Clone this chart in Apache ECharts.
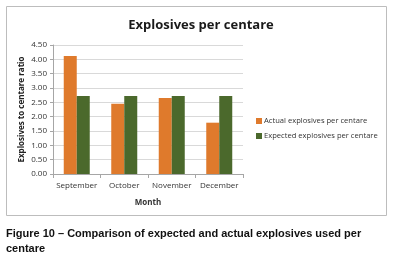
<!DOCTYPE html>
<html lang="en">
<head>
    <meta charset="UTF-8">
    <title>Explosives per centare</title>
    <script src="https://cdn.jsdelivr.net/npm/echarts@6/dist/echarts.min.js"></script>
    <style>
        *{
            margin: 0;
            padding: 0;
        }
        body{
            background: #fff;
        }
        #box{
            width: 394px;
            height: 269px;
        }
    </style>
</head>
<body>
<div id="box"></div>
<script type="text/javascript">
    // data
    let months = ['September', 'October', 'November', 'December'];
    let actual = [4.12, 2.45, 2.65, 1.79];
    let expected = [2.72, 2.72, 2.72, 2.72];
    let yTicks = [0, 0.5, 1, 1.5, 2, 2.5, 3, 3.5, 4, 4.5];

    let font = 'Open Sans';
    let myChart = echarts.init(document.getElementById('box'));
    let option = {
        animation: false,
        textStyle: {fontFamily: font},
        title: [{
            text: 'Explosives per centare',
            left: 196,
            textAlign: 'center',
            top: 14,
            textStyle: {fontSize: 13, fontWeight: 'bold', color: '#1a1a1a', fontFamily: font}
        }, {
            text: 'Figure 10 \u2013 Comparison of expected and actual explosives used per\ncentare',
            left: 6,
            top: 226,
            padding: 0,
            textStyle: {
                fontSize: 11, fontWeight: 'bold', color: '#111',
                fontFamily: 'Liberation Sans', lineHeight: 15
            }
        }],
        graphic: [{
            type: 'rect',
            shape: {x: 6.5, y: 6.5, width: 380, height: 209},
            style: {fill: 'none', stroke: '#bdbdbd', lineWidth: 1},
            z: -1
        }],
        legend: {
            orient: 'vertical',
            left: 251,
            top: 112,
            itemWidth: 6,
            itemHeight: 6,
            itemGap: 7,
            icon: 'rect',
            textStyle: {fontSize: 7.6, color: '#333', padding: [0, 0, 0, -3]},
            data: ['Actual explosives per centare', 'Expected explosives per centare']
        },
        grid: {
            left: 53,
            right: 151,
            top: 45,
            bottom: 95
        },
        xAxis: {
            type: 'category',
            data: months,
            name: 'Month',
            nameLocation: 'middle',
            nameGap: 25,
            nameTextStyle: {fontSize: 8, fontWeight: 'bold', color: '#333'},
            axisLine: {lineStyle: {color: '#a6a6a6'}},
            axisTick: {show: true, length: 4, lineStyle: {color: '#a6a6a6'}},
            axisLabel: {fontSize: 8, color: '#333', margin: 8, interval: 0}
        },
        yAxis: {
            type: 'value',
            min: yTicks[0],
            max: yTicks[yTicks.length - 1],
            interval: 0.5,
            name: 'Explosives to centare ratio',
            nameLocation: 'middle',
            nameGap: 27,
            nameTextStyle: {fontSize: 8, fontWeight: 'bold', color: '#222'},
            axisLine: {show: true, lineStyle: {color: '#a6a6a6'}},
            axisTick: {show: true, length: 3, lineStyle: {color: '#a6a6a6'}},
            axisLabel: {
                fontSize: 8, color: '#333', margin: 6,
                formatter: v => v.toFixed(2)
            },
            splitLine: {lineStyle: {color: '#d9d9d9'}}
        },
        series: [{
            name: 'Actual explosives per centare',
            type: 'bar',
            data: actual,
            barWidth: 13,
            barGap: '0%',
            itemStyle: {color: '#df7a2c'}
        }, {
            name: 'Expected explosives per centare',
            type: 'bar',
            data: expected,
            barWidth: 13,
            itemStyle: {color: '#4b692c'}
        }]
    };
    myChart.setOption(option);
</script>
</body>
</html>
